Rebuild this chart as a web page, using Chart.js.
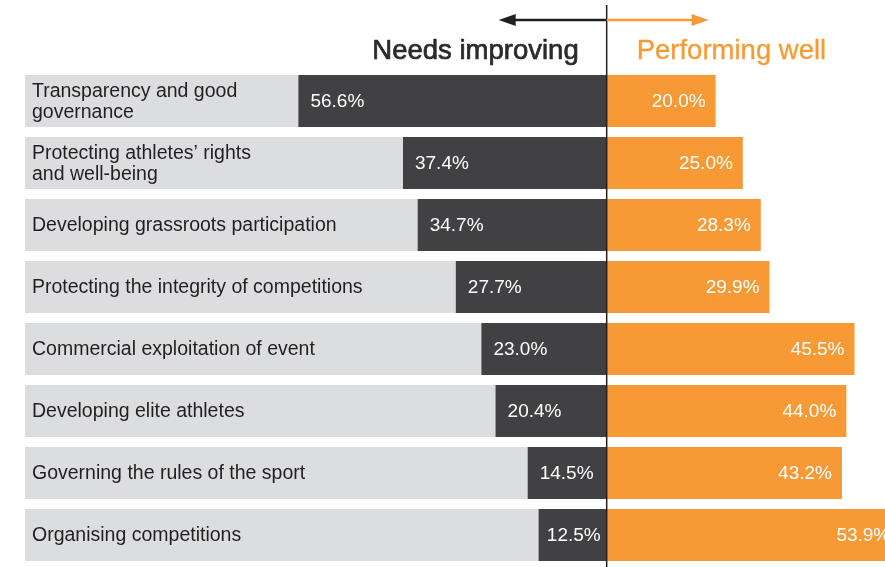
<!DOCTYPE html>
<html>
<head>
<meta charset="utf-8">
<script src="https://cdn.jsdelivr.net/npm/chart.js@4.4.1/dist/chart.umd.min.js"></script>
<style>
  html, body { margin: 0; padding: 0; background: #fff; }
  #wrap { width: 885px; height: 567px; position: relative; }
</style>
</head>
<body>
<div id="wrap"><canvas id="chart"></canvas></div>
<script>
const categories = [
  ['Transparency and good', 'governance'],
  ['Protecting athletes\u2019 rights', 'and well-being'],
  'Developing grassroots participation',
  'Protecting the integrity of competitions',
  'Commercial exploitation of event',
  'Developing elite athletes',
  'Governing the rules of the sport',
  'Organising competitions'
];
const needsImproving = [56.6, 37.4, 34.7, 27.7, 23.0, 20.4, 14.5, 12.5];
const performingWell = [20.0, 25.0, 28.3, 29.9, 45.5, 44.0, 43.2, 53.9];
const headers = ['Needs improving', 'Performing well'];

const X_MIN = -106.8;
const X_MAX = 51.1;
const DARK = '#414042';
const ORANGE = '#f79a35';
const GREY = '#dcdddf';
const TEXT = '#231f20';
const FONT = '"Liberation Sans", Arial, Helvetica, sans-serif';

const overlay = {
  id: 'overlay',
  afterDatasetsDraw(chart) {
    const { ctx, scales: { x, y } } = chart;
    const cx = x.getPixelForValue(0);
    ctx.save();

    // category labels
    ctx.fillStyle = TEXT;
    ctx.font = '19.5px ' + FONT;
    ctx.textAlign = 'left';
    ctx.textBaseline = 'middle';
    categories.forEach((c, i) => {
      const yc = y.getPixelForValue(i) + 1;
      const lines = Array.isArray(c) ? c : [c];
      const lh = 21;
      lines.forEach((t, j) => {
        ctx.fillText(t, 32, yc + (j - (lines.length - 1) / 2) * lh);
      });
    });

    // value labels
    ctx.font = '19px ' + FONT;
    ctx.fillStyle = '#ffffff';
    needsImproving.forEach((v, i) => {
      const yc = y.getPixelForValue(i) + 1;
      const t = v.toFixed(1) + '%';
      const w = ctx.measureText(t).width;
      const start = x.getPixelForValue(-v);
      const tx = Math.min(start + 12, cx - 6 - w);
      ctx.textAlign = 'left';
      ctx.fillText(t, tx, yc);
    });
    performingWell.forEach((v, i) => {
      const yc = y.getPixelForValue(i) + 1;
      const t = v.toFixed(1) + '%';
      ctx.textAlign = 'right';
      ctx.fillText(t, x.getPixelForValue(v) - 10, yc);
    });

    // centre line
    ctx.strokeStyle = TEXT;
    ctx.lineWidth = 1.5;
    ctx.beginPath();
    ctx.moveTo(cx, 5);
    ctx.lineTo(cx, chart.height);
    ctx.stroke();

    // arrows
    const ay = 20;
    const drawArrow = (color, len) => {
      ctx.strokeStyle = color;
      ctx.fillStyle = color;
      ctx.lineWidth = 2.5;
      const dir = Math.sign(len);
      const tip = cx + len;
      ctx.beginPath();
      ctx.moveTo(cx, ay);
      ctx.lineTo(tip - dir * 10, ay);
      ctx.stroke();
      ctx.beginPath();
      ctx.moveTo(tip, ay);
      ctx.lineTo(tip - dir * 17, ay - 6);
      ctx.lineTo(tip - dir * 17, ay + 6);
      ctx.closePath();
      ctx.fill();
    };
    drawArrow(TEXT, -108);
    drawArrow(ORANGE, 102);

    // headers (slight stroke to mimic a medium weight)
    ctx.font = '27.5px ' + FONT;
    ctx.textBaseline = 'alphabetic';
    ctx.lineWidth = 0.7;
    ctx.lineJoin = 'round';
    ctx.fillStyle = ctx.strokeStyle = '#2b2a2b';
    ctx.textAlign = 'right';
    ctx.fillText(headers[0], cx - 28, 59);
    ctx.strokeText(headers[0], cx - 28, 59);
    ctx.fillStyle = ctx.strokeStyle = ORANGE;
    ctx.textAlign = 'left';
    ctx.fillText(headers[1], cx + 30, 59);
    ctx.lineWidth = 0.3;
    ctx.strokeText(headers[1], cx + 30, 59);

    ctx.restore();
  }
};

new Chart(document.getElementById('chart'), {
  type: 'bar',
  data: {
    labels: categories,
    datasets: [
      {
        label: headers[0],
        data: needsImproving.map(v => -v),
        backgroundColor: DARK,
        order: 1
      },
      {
        label: headers[1],
        data: performingWell,
        backgroundColor: ORANGE,
        order: 1
      },
      {
        label: 'background',
        data: categories.map(() => X_MIN),
        backgroundColor: GREY,
        order: 2
      }
    ]
  },
  options: {
    indexAxis: 'y',
    responsive: true,
    maintainAspectRatio: false,
    animation: false,
    layout: { padding: { top: 70, left: 25, right: 0, bottom: 1 } },
    datasets: {
      bar: {
        grouped: false,
        categoryPercentage: 1,
        barPercentage: 52 / 62,
        borderWidth: 0
      }
    },
    scales: {
      x: { display: false, min: X_MIN, max: X_MAX },
      y: { display: false }
    },
    plugins: {
      legend: { display: false },
      tooltip: { enabled: false }
    }
  },
  plugins: [overlay]
});
</script>
</body>
</html>
